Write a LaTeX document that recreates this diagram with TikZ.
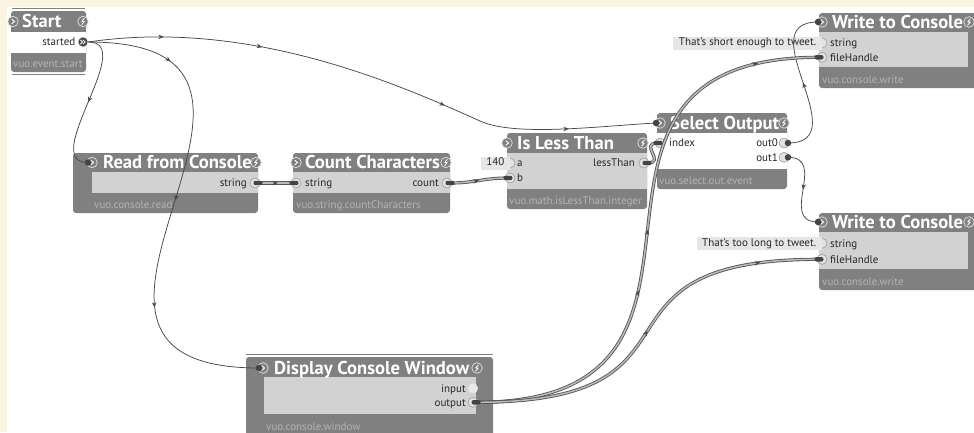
\documentclass[tikz,border=0pt]{standalone}
\usepackage{fontspec}
\setmainfont{PT Sans}
\usetikzlibrary{arrows.meta,decorations.markings,calc}

\definecolor{cream}{HTML}{FCF4E1}
\definecolor{nodegray}{HTML}{808080}
\definecolor{bodygray}{HTML}{D2D2D2}
\definecolor{classgray}{HTML}{B4B4B4}
\definecolor{iconline}{HTML}{E2E2E2}
\definecolor{cablegray}{HTML}{484848}
\definecolor{cableedge}{HTML}{555555}
\definecolor{cablefill}{HTML}{BABABA}
\definecolor{portfill}{HTML}{E2E2E2}
\definecolor{portline}{HTML}{9A9A9A}
\definecolor{portlight}{HTML}{E8E8E8}
\definecolor{constfill}{HTML}{E6E6E6}
\definecolor{plugc}{HTML}{444444}
\definecolor{textdark}{HTML}{262626}

\pgfdeclarelayer{cab}
\pgfdeclarelayer{plugs}
\pgfsetlayers{main,cab,plugs}

\begin{document}
\begin{tikzpicture}[x=1pt,y=-1pt,
  nodebox/.style={fill=nodegray, rounded corners=3pt, inner sep=0pt, outer sep=0pt, anchor=north west},
  ttl/.style={text=white, font=\bfseries\fontsize{18.6}{21}\selectfont, anchor=base west, inner sep=0pt},
  lbl/.style={text=textdark, font=\fontsize{11}{12}\selectfont, inner sep=0pt},
  cls/.style={text=classgray, font=\fontsize{11}{12}\selectfont, anchor=base west, inner sep=0pt},
  port/.style={circle, minimum size=10pt, inner sep=0pt, fill=portfill, draw=portline, line width=0.6pt},
  constbox/.style={fill=constfill, anchor=east, inner xsep=5.5pt, inner ysep=0pt,
    minimum height=13pt, text=textdark, font=\fontsize{11}{12}\selectfont,
    text height=8pt, text depth=2.5pt},
  evin/.style={circle, minimum size=10.5pt, inner sep=0pt, fill=nodegray, draw=iconline, line width=0.7pt,
    path picture={\coordinate (pc) at (path picture bounding box.center);
      \draw[white, line width=0.9pt] ([xshift=-1.3pt,yshift=2.4pt]pc) -- ([xshift=1.5pt]pc) -- ([xshift=-1.3pt,yshift=-2.4pt]pc);}},
  done/.style={circle, minimum size=10.5pt, inner sep=0pt, fill=nodegray, draw=iconline, line width=0.7pt,
    path picture={\coordinate (pc) at (path picture bounding box.center);
      \draw[white, line width=0.8pt, line join=bevel] ([xshift=1.4pt,yshift=3.2pt]pc) -- ([xshift=-1.4pt,yshift=-0.1pt]pc) -- ([xshift=1.4pt,yshift=0.1pt]pc) -- ([xshift=-1.4pt,yshift=-3.2pt]pc);}},
  startport/.style={circle, minimum size=10pt, inner sep=0pt, fill=plugc, draw=iconline, line width=0.6pt,
    path picture={\coordinate (pc) at (path picture bounding box.center);
      \draw[white, line width=0.8pt] ([xshift=-2.8pt,yshift=2.2pt]pc) -- ([xshift=-0.4pt]pc) -- ([xshift=-2.8pt,yshift=-2.2pt]pc);
      \draw[white, line width=0.8pt] ([xshift=-0.2pt,yshift=2.2pt]pc) -- ([xshift=2.2pt]pc) -- ([xshift=-0.2pt,yshift=-2.2pt]pc);}},
  dplug/.style={rectangle, rounded corners=2pt, minimum width=9pt, minimum height=4.4pt, inner sep=0pt, fill=plugc},
  eplug/.style={circle, minimum size=6.5pt, inner sep=0pt, fill=plugc},
  evcable/.style={draw=cablegray, line width=0.75pt},
  datacable/.style={preaction={draw=cableedge, line width=3.2pt}, draw=cablefill, line width=1.5pt},
  arr/.style={postaction={decorate, decoration={markings, mark=at position #1 with
    {\arrow[cablegray, line width=0.5pt]{Stealth[length=5.5pt, width=4.4pt]}}}}}
]
\useasboundingbox (0,0) rectangle (974,432);
\clip (0,0) rectangle (974,432);

% canvas
\fill[white] (0,0) rectangle (974,432);
\fill[cream] (0,0) rectangle (974,6.7);
\fill[cream] (0,0) rectangle (6.7,432);

% ---- Start (stateful: stacked edges) ----
\fill[nodegray] (12,7.8) rectangle (85,9.3);
\fill[nodegray] (12,73.8) rectangle (85,75.3);
\node[nodebox, minimum width=75pt, minimum height=61pt] (start) at (11,11) {};
\fill[white] (11,32) rectangle (86,53);
\node[evin] (start-ev) at (13,21.5) {};
\node[done] (start-done) at (83,21.5) {};
\node[ttl] (start-t) at (22,27.8) {Start};
\node[lbl, anchor=base east] (start-l) at (75.5,45.7) {started};
\node[startport] (start-out) at (83,42) {};
\node[cls] (start-c) at (13,67.5) {vuo.event.start};

% ---- Read from Console ----
\node[nodebox, minimum width=185pt, minimum height=60pt] (rc) at (73,153) {};
\fill[bodygray] (92,172) rectangle (258,193);
\node[evin] (rc-ev) at (92,162.5) {};
\node[done] (rc-done) at (256,162.5) {};
\node[ttl] (rc-t) at (103,168.8) {Read from Console};
\node[lbl, anchor=base east] (rc-l) at (247,186.7) {string};
\node[port] (rc-out) at (255,183) {};
\node[cls] (rc-c) at (94,208) {vuo.console.read};

% ---- Count Characters ----
\node[nodebox, minimum width=157pt, minimum height=60pt] (cc) at (293,153) {};
\fill[bodygray] (293,172) rectangle (450,193);
\node[evin] (cc-ev) at (296,162.5) {};
\node[done] (cc-done) at (446,162.5) {};
\node[ttl] (cc-t) at (305,168.8) {Count Characters};
\node[port] (cc-in) at (296,183) {};
\node[lbl, anchor=base west] (cc-l1) at (305,186.7) {string};
\node[lbl, anchor=base east] (cc-l2) at (439,186.7) {count};
\node[port] (cc-out) at (447,183) {};
\node[cls] (cc-c) at (296,208) {vuo.string.countCharacters};

% ---- Is Less Than ----
\node[nodebox, minimum width=140pt, minimum height=76pt] (lt) at (507,133) {};
\fill[bodygray] (507,153) rectangle (647,189);
\node[evin] (lt-ev) at (507,143) {};
\node[done] (lt-done) at (643,143) {};
\node[ttl] (lt-t) at (517,149.3) {Is Less Than};
\node[port] (lt-a) at (510,163) {};
\node[port] (lt-b) at (510,178) {};
\node[constbox] (lt-k) at (lt-a.center) {140};
\node[lbl, anchor=base west] (lt-la) at (517,166.7) {a};
\node[lbl, anchor=base west] (lt-lb) at (517,181.7) {b};
\node[lbl, anchor=base east] (lt-lo) at (635,166.7) {lessThan};
\node[port] (lt-out) at (644,163) {};
\node[cls] (lt-c) at (509,204) {vuo.math.isLessThan.integer};

% ---- Select Output ----
\node[nodebox, minimum width=130pt, minimum height=76pt] (so) at (657,113) {};
\fill[white] (657,133) rectangle (787,169);
\node[evin] (so-ev) at (660,123) {};
\node[done] (so-done) at (784,123) {};
\node[ttl] (so-t) at (670,129.3) {Select Output};
\node[port] (so-idx) at (660,143) {};
\node[lbl, anchor=base west] (so-li) at (669,146.7) {index};
\node[lbl, anchor=base east] (so-l0) at (778,146.7) {out0};
\node[lbl, anchor=base east] (so-l1) at (778,161) {out1};
\node[port] (so-o0) at (784,143) {};
\node[port] (so-o1) at (784,157.3) {};
\node[cls] (so-c) at (659,184) {vuo.select.out.event};

% ---- Write to Console (upper) ----
\node[nodebox, minimum width=165pt, minimum height=75pt] (wt) at (819,13) {};
\fill[bodygray] (819,32) rectangle (968,67);
\node[evin] (wt-ev) at (822,22) {};
\node[done] (wt-done) at (969,22) {};
\node[ttl] (wt-t) at (832,28.3) {Write to Console};
\node[port] (wt-str) at (822,43) {};
\node[port] (wt-fh) at (822,57.3) {};
\node[constbox] (wt-k) at (wt-str.center) {That's short enough to tweet.};
\node[lbl, anchor=base west] (wt-ls) at (830,46.7) {string};
\node[lbl, anchor=base west] (wt-lf) at (830,61) {fileHandle};
\node[cls] (wt-c) at (822,83) {vuo.console.write};

% ---- Write to Console (lower) ----
\node[nodebox, minimum width=165pt, minimum height=77pt] (wb) at (819,213) {};
\fill[bodygray] (819,232) rectangle (968,269);
\node[evin] (wb-ev) at (822,222) {};
\node[done] (wb-done) at (969,222) {};
\node[ttl] (wb-t) at (832,228.3) {Write to Console};
\node[port] (wb-str) at (822,243.3) {};
\node[port] (wb-fh) at (822,259.3) {};
\node[constbox] (wb-k) at (wb-str.center) {That's too long to tweet.};
\node[lbl, anchor=base west] (wb-ls) at (830,247) {string};
\node[lbl, anchor=base west] (wb-lf) at (830,263) {fileHandle};
\node[cls] (wb-c) at (822,285) {vuo.console.write};

% ---- Display Console Window (stateful) ----
\fill[nodegray] (246,353.8) rectangle (493,355.3);
\node[nodebox, minimum width=247pt, minimum height=90pt] (dw) at (246,357) {};
\fill[bodygray] (264,377) rectangle (476,414);
\node[evin] (dw-ev) at (263,368) {};
\node[done] (dw-done) at (477,368) {};
\node[ttl] (dw-t) at (274,374.3) {Display Console Window};
\node[lbl, anchor=base east] (dw-li) at (466,392) {input};
\node[lbl, anchor=base east] (dw-lo) at (466,406) {output};
\node[port, fill=portlight, draw=none] (dw-in) at (473,388.3) {};
\node[port] (dw-out) at (473,402.3) {};
\node[cls] (dw-c) at (266,430) {vuo.console.window};

% ---- cable ends ----
\begin{pgfonlayer}{plugs}
  \node[eplug] (pe-rc) at ($(rc-ev)+(-4,0)$) {};
  \node[eplug] (pe-dw) at ($(dw-ev)+(-4,0)$) {};
  \node[eplug] (pe-so) at ($(so-ev)+(-4,0)$) {};
  \node[eplug] (pe-wt) at ($(wt-ev)+(-4,0)$) {};
  \node[eplug] (pe-wb) at ($(wb-ev)+(-4,0)$) {};
  \node[eplug] (pe-o0) at ($(so-o0)+(4,0)$) {};
  \node[eplug] (pe-o1) at ($(so-o1)+(4,0)$) {};
  \node[dplug] (pl-rc) at ($(rc-out)+(3,0)$) {};
  \node[dplug] (pl-cci) at ($(cc-in)+(-2,0)$) {};
  \node[dplug] (pl-cco) at ($(cc-out)+(3,0)$) {};
  \node[dplug] (pl-ltb) at ($(lt-b)+(-2,0)$) {};
  \node[dplug] (pl-lto) at ($(lt-out)+(3,0)$) {};
  \node[dplug] (pl-soi) at ($(so-idx)+(-2,0)$) {};
  \node[dplug] (pl-dwo) at ($(dw-out)+(3,0)$) {};
  \node[dplug] (pl-wtf) at ($(wt-fh)+(-3,0)$) {};
  \node[dplug] (pl-wbf) at ($(wb-fh)+(-3,0)$) {};
\end{pgfonlayer}

% ---- cables ----
\coordinate (bend1) at (480,121);
\begin{pgfonlayer}{cab}
  % event cables
  \draw[evcable, arr=0.13, arr=0.3, arr=0.63, arr=0.85]
    (start-out.east) .. controls (250,18) and (400,85) .. (bend1)
    .. controls (515,137) and (600,126) .. (pe-so.center);
  \draw[evcable, arr=0.18, arr=0.49, arr=0.72]
    (start-out.east) .. controls +(270,0) and +(-270,0) .. (pe-dw.center);
  \draw[evcable, arr=0.5]
    (start-out.east) .. controls +(50,0) and +(-50,0) .. (pe-rc.center);
  \draw[evcable, arr=0.5]
    (pe-o0.center) .. controls +(70,0) and +(-70,0) .. (pe-wt.center);
  \draw[evcable, arr=0.5]
    (pe-o1.center) .. controls +(40,0) and +(-40,0) .. (pe-wb.center);
  % data cables
  \draw[datacable, arr=0.55] (pl-rc.center) -- (pl-cci.center);
  \draw[datacable, arr=0.5]
    (pl-cco.center) .. controls +(25,0) and +(-25,0) .. (pl-ltb.center);
  \draw[datacable]
    (pl-lto.center) .. controls +(20,0) and +(-20,0) .. (pl-soi.center);
  \draw[datacable, arr=0.39, arr=0.5, arr=0.89]
    (pl-dwo.center) .. controls +(303,0) and +(-303,0) .. (pl-wtf.center);
  \draw[datacable, arr=0.5, arr=0.85]
    (pl-dwo.center) .. controls +(250,0) and +(-250,0) .. (pl-wbf.center);
\end{pgfonlayer}
\end{tikzpicture}
\end{document}
